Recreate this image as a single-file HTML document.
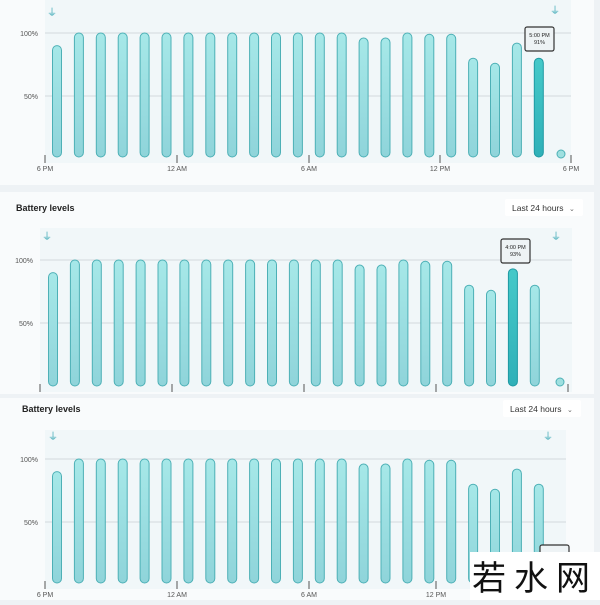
<!DOCTYPE html>
<html><head><meta charset="utf-8"><style>
body{margin:0;width:600px;height:600px;overflow:hidden;background:#eef2f5;font-family:"Liberation Sans","Noto Sans CJK SC",sans-serif}
</style></head><body>
<svg id="s" width="600" height="600" xmlns="http://www.w3.org/2000/svg" font-family="Liberation Sans, sans-serif">
<defs>
<linearGradient id="g" x1="0" y1="0" x2="0" y2="1"><stop offset="0" stop-color="#a6e8e8"/><stop offset="1" stop-color="#8fd4da"/></linearGradient>
<linearGradient id="gd" x1="0" y1="0" x2="0" y2="1"><stop offset="0" stop-color="#45c9c9"/><stop offset="1" stop-color="#2fb0b8"/></linearGradient>
</defs>
</svg>
<script>
const s=document.getElementById('s');const NS='http://www.w3.org/2000/svg';
function el(t,a,txt){const e=document.createElementNS(NS,t);for(const k in a)e.setAttribute(k,a[k]);if(txt!=null)e.textContent=txt;s.appendChild(e);return e;}
const vals=[90,100,100,100,100,100,100,100,100,100,100,100,100,100,96,96,100,99,99,80,76,92,80];
function panel(o){
 // panel bg
 el('rect',{x:0,y:o.py,width:594,height:o.ph,fill:'#f9fbfc'});
 el('rect',{x:o.cx0,y:o.cy0,width:o.cx1-o.cx0,height:o.base+6-o.cy0,fill:'#f1f7f9'});
 if(o.title){el('text',{x:o.title[0],y:o.title[1],'font-size':9,'font-weight':'bold',fill:'#222'},'Battery levels');
  el('rect',{x:o.dd[0],y:o.dd[1],width:78,height:17,fill:'#fff',rx:2});
  el('text',{x:o.dd[0]+7,y:o.dd[1]+12,'font-size':8.5,fill:'#333'},'Last 24 hours');
  el('text',{x:o.dd[0]+64,y:o.dd[1]+12,'font-size':7,fill:'#666'},'⌄');}
 const y100=o.y100,y50=o.y50,base=o.base,z=base+2;
 el('line',{x1:o.cx0,x2:o.cx1,y1:y100,y2:y100,stroke:'#d2dadd','stroke-width':1});
 el('line',{x1:o.cx0,x2:o.cx1,y1:y50,y2:y50,stroke:'#d2dadd','stroke-width':1});
 el('text',{x:o.cx0-7,y:y100+3,'font-size':7,fill:'#555','text-anchor':'end'},'100%');
 el('text',{x:o.cx0-7,y:y50+3,'font-size':7,fill:'#555','text-anchor':'end'},'50%');
 const k=(y50-y100)/50;
 for(let i=0;i<23;i++){const x=o.x0+i*21.9;const v=(o.dark==i)?o.dv:vals[i];const top=z-v*k*1.0+ (v==100?0:0);const t=y100+(100-v)*k;
  el('rect',{x:x-4.5,y:t,width:9,height:base-t,rx:4.5,fill:o.dark==i?'url(#gd)':'url(#g)',stroke:o.dark==i?'#1f9aa3':'#4db0b6','stroke-width':1});}
 if(o.dot)el('circle',{cx:o.dot[0],cy:o.dot[1],r:4,fill:'#9fe0e0',stroke:'#4db0b6'});
 o.ticks.forEach((tk,i)=>{el('line',{x1:tk[0],x2:tk[0],y1:base-2,y2:base+6,stroke:'#555'});
  el('text',{x:tk[0],y:base+14,'font-size':7,fill:'#555','text-anchor':'middle'},tk[1]);});
 o.plugs.forEach(p=>el('text',{x:p[0],y:p[1],'font-size':10,fill:'#3aa8b5','text-anchor':'middle'},'⏚'));
 if(o.tip){const [x,y,a,b]=o.tip;el('rect',{x:x,y:y,width:29,height:24,rx:2,fill:'#eef3f5',stroke:'#333','stroke-width':1.2});
  el('text',{x:x+14.5,y:y+10,'font-size':5.5,fill:'#222','text-anchor':'middle'},a);
  el('text',{x:x+14.5,y:y+17,'font-size':5.5,fill:'#222','text-anchor':'middle'},b);}
}
panel({py:0,ph:185,cx0:45,cx1:571,cy0:0,y100:33,y50:96,base:157,x0:57,dark:22,dv:80,dot:[561,154],
 ticks:[[45,'6 PM'],[177,'12 AM'],[309,'6 AM'],[440,'12 PM'],[571,'6 PM']],plugs:[[52,16],[555,14]],tip:[525,27,'5:00 PM','91%']});
panel({py:192,ph:202,cx0:40,cx1:572,cy0:228,y100:260,y50:323,base:386,x0:53,dark:21,dv:93,dot:[560,382],title:[16,211],dd:[505,199],
 ticks:[[40,''],[172,''],[304,''],[436,''],[568,'']],plugs:[[47,240],[556,240]],tip:[501,239,'4:00 PM','93%']});
panel({py:398,ph:202,cx0:45,cx1:566,cy0:430,y100:459,y50:522,base:583,x0:57,dark:-1,dv:0,title:[22,412],dd:[503,400],
 ticks:[[45,'6 PM'],[177,'12 AM'],[309,'6 AM'],[436,'12 PM']],plugs:[[53,440],[548,440]]});
el('rect',{x:540,y:545,width:29,height:40,rx:2,fill:'#eef3f5',stroke:'#333','stroke-width':1.2});
el('rect',{x:470,y:552,width:130,height:48,fill:'#fff'});
el('text',{x:535,y:590,'font-size':34,fill:'#111','text-anchor':'middle','font-family':'Noto Sans CJK SC, sans-serif','letter-spacing':'8'},'若水网');
</script>
</body></html>
